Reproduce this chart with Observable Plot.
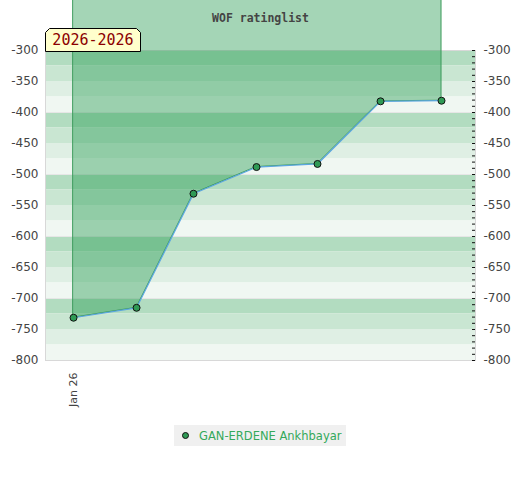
<!DOCTYPE html>
<html>
<head>
<meta charset="utf-8">
<script src="https://cdn.jsdelivr.net/npm/d3@7"></script>
<script src="https://cdn.jsdelivr.net/npm/@observablehq/plot@0.6"></script>
<style>
  html, body { margin: 0; padding: 0; background: #fff; }
  #wrap { position: relative; width: 520px; }
  #range { position: absolute; left: 45px; top: 28px; width: 96px; height: 24px; }
  #range svg { position: absolute; left: 0; top: 0; }
  #range span { position: absolute; left: 0; top: 3px; width: 96px; text-align: center;
    font: 15px "DejaVu Sans Mono", monospace; color: #8b0000; }
  #legend { margin: 5px auto 0; width: 172px; height: 21px; background: #f0f0f0;
    font: 11.5px "DejaVu Sans", sans-serif; color: #34a95a; display: flex; align-items: center;
    white-space: nowrap; overflow: hidden; }
  #legend i { display: inline-block; width: 7px; height: 7px; border-radius: 50%; background: #2f9a55;
    border: 1px solid #111; margin: 0 10px 0 8px; box-sizing: border-box; flex: none; }
</style>
</head>
<body>
<div id="wrap">
  <div id="chart"></div>
  <div id="range">
    <svg width="96" height="24"><polygon points="0.5,23.5 0.5,4.5 4.5,0.5 91.5,0.5 95.5,4.5 95.5,23.5" fill="#ffffcc" stroke="#000"/></svg>
    <span id="rangeText"></span>
  </div>
  <div id="legend"><i></i><span id="legendText"></span></div>
</div>
<script>
const title = "WOF ratinglist";
const rangeLabel = "2026-2026";
const player = "GAN-ERDENE Ankhbayar";
const dates = ["2026-01-01","2026-02-01","2026-03-01","2026-04-01","2026-05-01","2026-06-01","2026-07-01"];
const ratings = [-731, -715, -531, -488, -483, -382, -381];
const yTicks = [-300, -350, -400, -450, -500, -550, -600, -650, -700, -750, -800];
const xTicks = ["2026-01-01"];
const xTickLabels = ["Jan 26"];
const bandTones = ["#b2dcc0", "#c9e6d2", "#dfefe4", "#f0f7f2"];
const bandSize = 25;
const gridValues = [-400, -500, -600, -700];
const areaTop = -215;

document.getElementById("rangeText").textContent = rangeLabel;
document.getElementById("legendText").textContent = player;

const data = dates.map((d, i) => ({date: new Date(d), rating: ratings[i]}));
const bands = d3.range(-300, -800, -bandSize).map((y, i) => ({y1: y, y2: y - bandSize, tone: bandTones[i % bandTones.length]}));
const minorTicks = d3.range(-800, -299, 10);

const chart = Plot.plot({
  width: 520,
  height: 420,
  marginTop: 50,
  marginBottom: 60,
  marginLeft: 45,
  marginRight: 45,
  style: {fontFamily: "DejaVu Sans, sans-serif", fontSize: "12px", color: "#444", background: "transparent"},
  x: {type: "utc", domain: [new Date("2025-12-18T05:00Z"), new Date("2026-07-17T17:00Z")]},
  y: {domain: [-800, -300]},
  marks: [
    Plot.rect(bands, {y1: "y1", y2: "y2", fill: d => d.tone}),
    Plot.ruleY(gridValues, {stroke: "#e6e6e6"}),
    Plot.frame({stroke: "#d8d8d8"}),
    Plot.areaY(data, {x: "date", y1: "rating", y2: () => areaTop, fill: "#269c52", fillOpacity: 0.42, stroke: "#3a9a5a", strokeWidth: 1}),
    Plot.lineY(data, {x: "date", y: "rating", stroke: "#5ba6e0", strokeWidth: 1.2}),
    Plot.dot(data, {x: "date", y: "rating", r: 3.5, fill: "#2f9a55", stroke: "#111", strokeWidth: 1}),
    Plot.axisY({anchor: "left", ticks: yTicks, tickSize: 0, tickPadding: 7, tickFormat: d => String(d), fontSize: 12, label: null}),
    Plot.axisY({anchor: "right", ticks: yTicks, tickSize: 0, tickPadding: 8, tickFormat: d => String(d), fontSize: 12, label: null}),
    Plot.axisY({anchor: "right", ticks: minorTicks, tickSize: 3, dx: -4, text: null, label: null, stroke: "#111"}),
    Plot.axisX({ticks: xTicks.map(d => new Date(d)), tickSize: 0, tickPadding: 12, tickRotate: -90,
      tickFormat: (d, i) => xTickLabels[i], fontSize: 11, label: null}),
    Plot.text([title], {frameAnchor: "top", dy: -37, text: d => d, fontFamily: "DejaVu Sans Mono, monospace",
      fontWeight: "bold", fontSize: 11.5, fill: "#444"})
  ]
});
document.getElementById("chart").appendChild(chart);
</script>
</body>
</html>
